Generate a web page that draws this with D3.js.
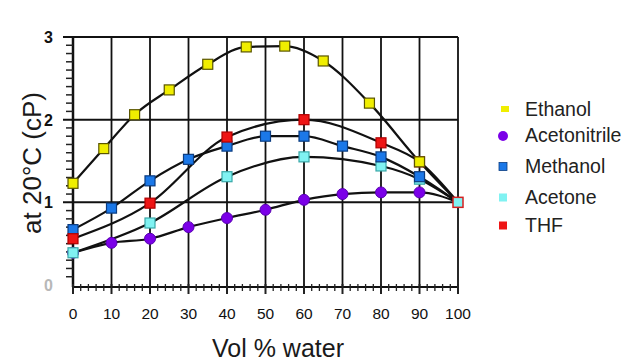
<!DOCTYPE html>
<html>
<head>
<meta charset="utf-8">
<script src="https://cdn.jsdelivr.net/npm/d3@7"></script>
<style>
  html, body { margin: 0; padding: 0; background: #ffffff; }
  svg { display: block; font-family: "Liberation Sans", Arial, sans-serif; }
</style>
</head>
<body>
<svg id="chart" width="634" height="362"></svg>
<script>
// ---- data ----
const seriesNames = ["Ethanol", "Acetonitrile", "Methanol", "Acetone", "THF"];

const ethanolX = [0, 8, 16, 25, 35, 45, 55, 65, 77, 90, 100];
const ethanolY = [1.23, 1.65, 2.06, 2.36, 2.67, 2.88, 2.89, 2.71, 2.20, 1.49, 1.00];

const acetonitrileX = [0, 10, 20, 30, 40, 50, 60, 70, 80, 90, 100];
const acetonitrileY = [0.39, 0.51, 0.56, 0.70, 0.81, 0.91, 1.03, 1.10, 1.12, 1.12, 1.00];

const methanolX = [0, 10, 20, 30, 40, 50, 60, 70, 80, 90, 100];
const methanolY = [0.67, 0.93, 1.26, 1.52, 1.68, 1.80, 1.80, 1.68, 1.55, 1.31, 1.00];

const acetoneX = [0, 20, 40, 60, 80, 90, 100];
const acetoneY = [0.39, 0.75, 1.31, 1.55, 1.44, 1.28, 1.00];

const thfX = [0, 20, 40, 60, 80, 90, 100];
const thfY = [0.56, 0.99, 1.79, 2.00, 1.72, 1.49, 1.00];

const xTicks = [0, 10, 20, 30, 40, 50, 60, 70, 80, 90, 100];
const yTicks = [0, 1, 2, 3];
const waterPoint = [100, 1.0];

// ---- layout ----
const svg = d3.select("#chart");
const x = d3.scaleLinear().domain([0, 100]).range([73, 458]);
const y = d3.scaleLinear().domain([0, 3]).range([285, 37]);

const styles = {
  Ethanol:      {fill: "#f0ee00", stroke: "#5a5500", shape: "square"},
  Acetonitrile: {fill: "#7b00e8", stroke: "#5800b0", shape: "circle"},
  Methanol:     {fill: "#1b78e8", stroke: "#0b3c80", shape: "square"},
  Acetone:      {fill: "#80f2f2", stroke: "#3aa8a8", shape: "square"},
  THF:          {fill: "#ee1515", stroke: "#b00000", shape: "square"}
};

const series = {
  Ethanol: d3.zip(ethanolX, ethanolY),
  Acetonitrile: d3.zip(acetonitrileX, acetonitrileY),
  Methanol: d3.zip(methanolX, methanolY),
  Acetone: d3.zip(acetoneX, acetoneY),
  THF: d3.zip(thfX, thfY)
};

const g = svg.append("g");

// grid: vertical lines
g.selectAll("line.vgrid").data(xTicks).join("line")
  .attr("x1", d => x(d)).attr("x2", d => x(d))
  .attr("y1", y(3)).attr("y2", y(0) + 2)
  .attr("stroke", "#111").attr("stroke-width", d => (d === 0 ? 2.5 : 1.8));

// horizontal lines
g.selectAll("line.hgrid").data([1, 2, 3]).join("line")
  .attr("x1", x(0) - 10).attr("x2", x(100))
  .attr("y1", d => y(d)).attr("y2", d => y(d))
  .attr("stroke", "#111").attr("stroke-width", 2);

// bottom axis line
g.append("line")
  .attr("x1", x(0)).attr("x2", x(100))
  .attr("y1", y(0) + 2).attr("y2", y(0) + 2)
  .attr("stroke", "#111").attr("stroke-width", 2);

// y minor ticks
const yMinor = d3.range(0, 3.001, 0.1).filter(v => Math.abs(v - Math.round(v)) > 0.01);
g.selectAll("line.ym").data(yMinor).join("line")
  .attr("x1", x(0) - 7).attr("x2", x(0))
  .attr("y1", d => y(d)).attr("y2", d => y(d))
  .attr("stroke", "#222").attr("stroke-width", 1.5);

// x minor ticks
const xMinor = d3.range(0, 100.01, 2);
g.selectAll("line.xm").data(xMinor).join("line")
  .attr("x1", d => x(d)).attr("x2", d => x(d))
  .attr("y1", y(0) - 1).attr("y2", d => y(0) + (d % 10 === 0 ? 9 : 6))
  .attr("stroke", "#222").attr("stroke-width", d => (d % 10 === 0 ? 2 : 1.3));

// tick labels
g.selectAll("text.xl").data(xTicks).join("text")
  .attr("x", d => x(d)).attr("y", 319)
  .attr("text-anchor", "middle")
  .attr("font-size", 15.5).attr("fill", "#111")
  .text(d => d);

g.selectAll("text.yl").data(yTicks).join("text")
  .attr("x", 53).attr("y", d => y(d) + 6)
  .attr("text-anchor", "end")
  .attr("font-size", 16).attr("font-weight", "bold")
  .attr("fill", d => (d === 0 ? "#b8b8b8" : "#111"))
  .text(d => d);

// axis titles
svg.append("text")
  .attr("x", 278).attr("y", 357)
  .attr("text-anchor", "middle")
  .attr("font-size", 25).attr("fill", "#1a1a1a")
  .text("Vol % water");

svg.append("text")
  .attr("transform", "translate(41,163) rotate(-90)")
  .attr("text-anchor", "middle")
  .attr("font-size", 26).attr("fill", "#1a1a1a")
  .text("at 20°C (cP)");

// curves
const line = d3.line()
  .x(d => x(d[0])).y(d => y(d[1]))
  .curve(d3.curveMonotoneX);

const drawOrder = ["Acetonitrile", "Acetone", "Methanol", "THF", "Ethanol"];
drawOrder.forEach(name => {
  g.append("path").datum(series[name])
    .attr("d", line)
    .attr("fill", "none")
    .attr("stroke", "#111").attr("stroke-width", 2.2);
});

// markers (all except the shared 100% water end point)
function drawMarker(sel, st, cx, cy, size) {
  if (st.shape === "circle") {
    sel.append("circle").attr("cx", cx).attr("cy", cy).attr("r", size / 2 + 0.5)
      .attr("fill", st.fill).attr("stroke", st.stroke).attr("stroke-width", 1);
  } else {
    sel.append("rect").attr("x", cx - size / 2).attr("y", cy - size / 2)
      .attr("width", size).attr("height", size)
      .attr("fill", st.fill).attr("stroke", st.stroke).attr("stroke-width", 1.2);
  }
}
drawOrder.forEach(name => {
  const st = styles[name];
  const mg = g.append("g");
  series[name].filter(d => d[0] < 100).forEach(d => drawMarker(mg, st, x(d[0]), y(d[1]), 10));
});

// shared end point (pure water)
g.append("rect")
  .attr("x", x(waterPoint[0]) - 5).attr("y", y(waterPoint[1]) - 5)
  .attr("width", 10).attr("height", 10)
  .attr("fill", styles.Acetone.fill).attr("stroke", "#d42020").attr("stroke-width", 1.5);

// legend
const legendY = [109, 135, 166, 197, 225];
const lg = svg.append("g");
seriesNames.forEach((name, i) => {
  const st = styles[name];
  const cy = legendY[i];
  if (name === "Ethanol") {
    lg.append("rect").attr("x", 501).attr("y", cy - 3).attr("width", 8).attr("height", 6)
      .attr("fill", st.fill);
  } else if (st.shape === "circle") {
    lg.append("circle").attr("cx", 503).attr("cy", cy + 1).attr("r", 5).attr("fill", st.fill);
  } else {
    lg.append("rect").attr("x", 499).attr("y", cy - 3.5).attr("width", 8).attr("height", 8)
      .attr("fill", st.fill).attr("stroke", name === "Methanol" ? "#0b3c80" : "none").attr("stroke-width", 0.8);
  }
  lg.append("text").attr("x", 525).attr("y", cy + 7)
    .attr("font-size", 19.5).attr("fill", "#222")
    .text(name);
});
</script>
</body>
</html>
